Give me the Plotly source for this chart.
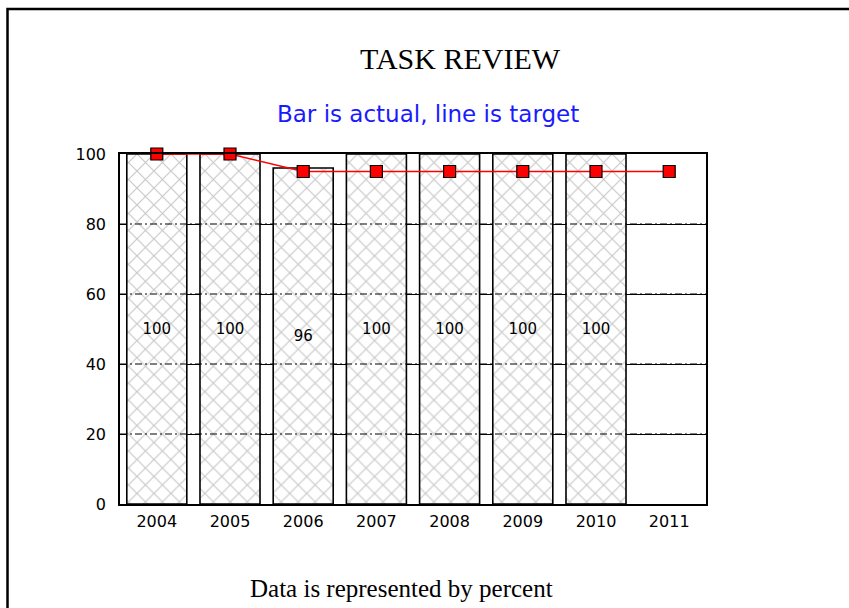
import plotly.graph_objects as go

years = ["2004", "2005", "2006", "2007", "2008", "2009", "2010", "2011"]
actual = [100, 100, 96, 100, 100, 100, 100, None]
actual_labels = ["100", "100", "96", "100", "100", "100", "100", ""]
target = [100, 100, 95, 95, 95, 95, 95, 95]
y_ticks = [0, 20, 40, 60, 80, 100]
grid_levels = [20, 40, 60, 80]

title_text = "TASK REVIEW"
subtitle_text = "Bar is actual, line is target"
footer_text = "Data is represented by percent"

W, H = 849, 608
ML, MR, MT, MB = 120, 143, 154, 104
PW, PH = W - ML - MR, H - MT - MB


def px_x(p):
    return (p - ML) / PW


def px_y(p):
    return (H - MB - p) / PH


fig = go.Figure()

fig.add_trace(go.Bar(
    x=years, y=actual, width=0.82,
    text=actual_labels, textposition="inside", insidetextanchor="middle",
    textangle=0,
    textfont=dict(family="DejaVu Sans", size=15, color="black"),
    marker=dict(
        color="white",
        line=dict(color="black", width=1.6),
        pattern=dict(shape="x", size=12, solidity=0.18,
                     fgcolor="#c8c8c8", bgcolor="white", fillmode="replace"),
    ),
    showlegend=False, hoverinfo="skip",
))

fig.add_trace(go.Scatter(
    x=years, y=target, mode="lines+markers", cliponaxis=False,
    line=dict(color="#ff0000", width=1.5),
    marker=dict(symbol="square", size=12, color="#ff0000",
                line=dict(color="black", width=1.2)),
    showlegend=False, hoverinfo="skip",
))

shapes = []
for g in grid_levels:
    shapes.append(dict(type="line", xref="paper", yref="y", x0=0, x1=1, y0=g, y1=g,
                       line=dict(color="black", width=1, dash="7px,3px,2px,3px"),
                       layer="above"))
# outer frame
shapes.append(dict(type="rect", xref="paper", yref="paper",
                   x0=px_x(7.5), x1=px_x(880), y0=px_y(640), y1=px_y(9),
                   line=dict(color="black", width=2.5), fillcolor="rgba(0,0,0,0)",
                   layer="above"))

annotations = [
    dict(text=title_text, xref="paper", yref="paper", x=px_x(460), y=px_y(58),
         xanchor="center", yanchor="middle", showarrow=False,
         font=dict(family="Liberation Serif, Times New Roman", size=30, color="black")),
    dict(text=subtitle_text, xref="paper", yref="paper", x=px_x(428), y=px_y(114),
         xanchor="center", yanchor="middle", showarrow=False,
         font=dict(family="DejaVu Sans", size=23, color="#1a1aff")),
    dict(text=footer_text, xref="paper", yref="paper", x=px_x(401), y=px_y(588),
         xanchor="center", yanchor="middle", showarrow=False,
         font=dict(family="Liberation Serif, Times New Roman", size=25, color="black")),
]

fig.update_layout(
    width=W, height=H,
    margin=dict(l=ML, r=MR, t=MT, b=MB),
    paper_bgcolor="white", plot_bgcolor="white",
    shapes=shapes, annotations=annotations,
    bargap=0.18,
    font=dict(family="DejaVu Sans", size=16, color="black"),
)
fig.update_xaxes(
    type="category", showgrid=False, showline=True, mirror=True,
    linecolor="black", linewidth=1.6, ticks="", ticklabelstandoff=2,
    tickfont=dict(size=16),
)
fig.update_yaxes(
    range=[0, 100], tickvals=y_ticks, showgrid=True, gridcolor="black", gridwidth=1,
    zeroline=False, showline=True, mirror=True, linecolor="black", linewidth=1.6,
    ticks="", ticklabelstandoff=9, tickfont=dict(size=16),
)

fig.write_html("out.html", config={"displayModeBar": False},
               post_script="document.body.style.margin='0';")
